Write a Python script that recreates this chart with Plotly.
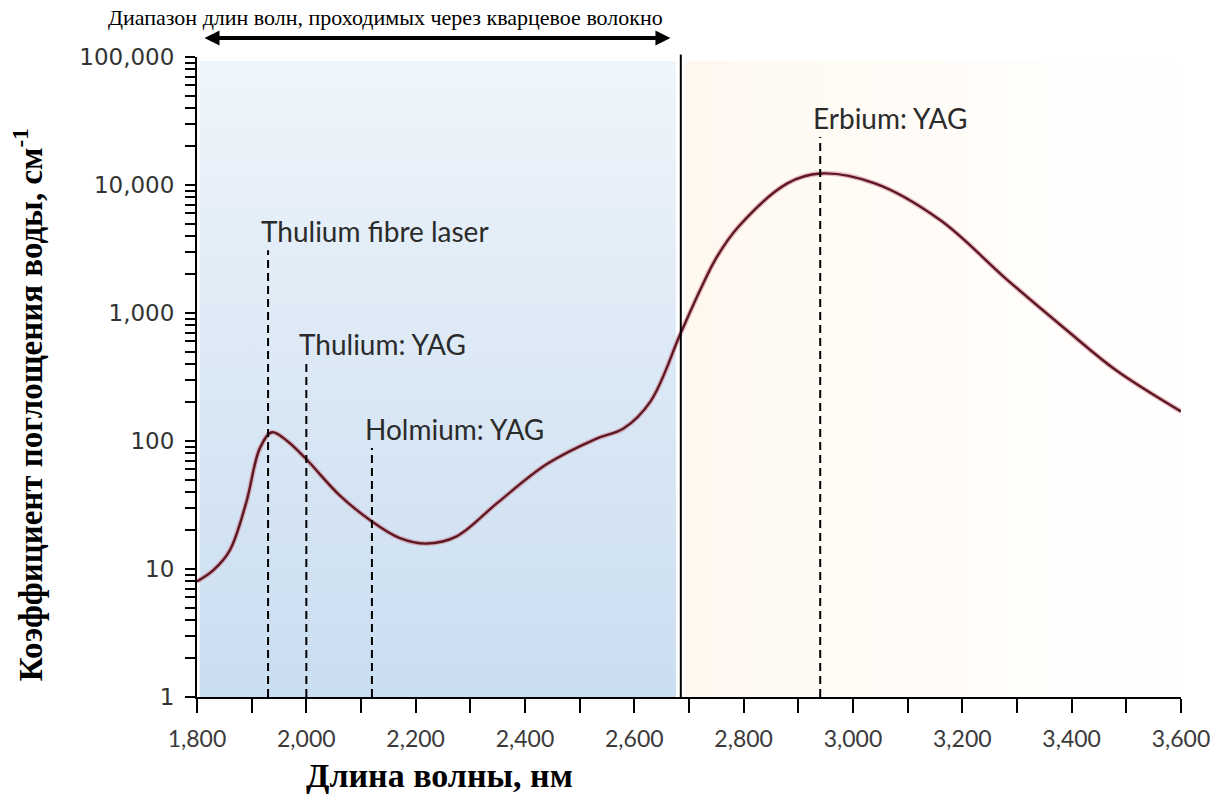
import plotly.graph_objects as go

# Water absorption spectrum in the near/mid infrared
wavelength_nm = [1800, 1830, 1860, 1890, 1915, 1937, 1965, 2000, 2060, 2120,
                 2170, 2220, 2275, 2350, 2440, 2530, 2580, 2630, 2685, 2720,
                 2750, 2790, 2880, 2940, 3040, 3160, 3280, 3390, 3480, 3600]
absorption_cm = [8.0, 9.8, 14, 33, 88, 117, 100, 72, 38, 23.5,
                 17.5, 15.8, 18, 33, 66, 104, 125, 205, 700, 1500,
                 2700, 4700, 10300, 12300, 10300, 5300, 1850, 740, 360, 170]

# Laser emission lines
laser_names = ["Thulium fibre laser", "Thulium: YAG", "Holmium: YAG", "Erbium: YAG"]
laser_nm = [1930, 2000, 2120, 2940]

# Upper transmission limit of silica fibre
fibre_limit_nm = 2685

x_ticks = list(range(1800, 3601, 100))
x_labels = [f"{v:,}" if v % 200 == 0 else "" for v in x_ticks]
y_decades = [1, 10, 100, 1000, 10000, 100000]
y_decade_labels = ["1", "10", "100", "1,000", "10,000", "100,000"]

# log-axis ticks: every integer multiple inside each decade, labels on decades only
y_ticks, y_labels = [], []
for d, lab in zip(y_decades, y_decade_labels):
    if d == y_decades[-1]:
        y_ticks.append(d)
        y_labels.append(lab)
        break
    for m in range(1, 10):
        y_ticks.append(d * m)
        y_labels.append(lab if m == 1 else "")

X_MIN, X_MAX = x_ticks[0], x_ticks[-1]
Y_MIN, Y_MAX = y_decades[0], y_decades[-1]

# paper-height of each dashed marker's top and its label
marker_top = [0.698, 0.522, 0.389, 0.875]
label_offset = 0.030

fig = go.Figure()

# shaded bands: transmitted range (blue) and beyond the fibre limit (cream)
band_gap = 9
fig.add_trace(go.Scatter(
    x=[X_MIN + 5, fibre_limit_nm - band_gap, fibre_limit_nm - band_gap, X_MIN + 5, X_MIN + 5],
    y=[Y_MIN, Y_MIN, Y_MAX * 0.93, Y_MAX * 0.93, Y_MIN],
    mode="lines", line=dict(width=0), fill="toself",
    fillgradient=dict(type="vertical",
                      colorscale=[[0, "#cadef1"], [0.5, "#dbe8f5"], [1, "#eff5fb"]]),
    hoverinfo="skip", showlegend=False))
fig.add_trace(go.Scatter(
    x=[fibre_limit_nm + band_gap, X_MAX, X_MAX, fibre_limit_nm + band_gap, fibre_limit_nm + band_gap],
    y=[Y_MIN, Y_MIN, Y_MAX * 0.93, Y_MAX * 0.93, Y_MIN],
    mode="lines", line=dict(width=0), fill="toself",
    fillgradient=dict(type="horizontal",
                      colorscale=[[0, "#fef8ef"], [0.5, "#fffcf8"], [1, "#ffffff"]]),
    hoverinfo="skip", showlegend=False))

# absorption curve with a soft halo
fig.add_trace(go.Scatter(
    x=wavelength_nm, y=absorption_cm, mode="lines",
    line=dict(color="rgba(205,110,130,0.45)", width=5, shape="spline", smoothing=1.0),
    hoverinfo="skip", showlegend=False))
fig.add_trace(go.Scatter(
    x=wavelength_nm, y=absorption_cm, mode="lines",
    line=dict(color="#5e1822", width=2.4, shape="spline", smoothing=1.0),
    showlegend=False))

shapes = []
annotations = []

# fibre limit
shapes.append(dict(type="line", xref="x", yref="paper", x0=fibre_limit_nm, x1=fibre_limit_nm,
                   y0=0, y1=1.004, line=dict(color="black", width=2)))

# laser markers
for name, nm, top in zip(laser_names, laser_nm, marker_top):
    shapes.append(dict(type="line", xref="x", yref="paper", x0=nm, x1=nm, y0=0, y1=top,
                       line=dict(color="black", width=2, dash="8px,5px")))
    annotations.append(dict(text=name, xref="x", yref="paper", x=nm, y=top + label_offset,
                            xanchor="left", yanchor="middle", xshift=-9, showarrow=False,
                            font=dict(family="Lato", size=28, color="#2b2b2b")))

# double-headed arrow over the transmitted range
annotations.append(dict(text="", xref="x", yref="paper", x=2666, y=1.0297,
                        axref="x", ayref="pixel", ax=1811, ay=0,
                        showarrow=True, arrowside="end+start", arrowhead=2,
                        arrowsize=0.75, arrowwidth=4, arrowcolor="black"))
annotations.append(dict(text="Диапазон длин волн, проходимых через кварцевое волокно",
                        xref="paper", yref="paper", x=0.192, y=1.0625,
                        xanchor="center", yanchor="middle", showarrow=False,
                        font=dict(family="Liberation Serif", size=22, color="black")))

# axis titles
annotations.append(dict(text="<b>Коэффициент поглощения воды, см<sup>-1</sup></b>",
                        xref="paper", yref="paper", x=-0.172, y=0.457, textangle=-90,
                        xanchor="center", yanchor="middle", showarrow=False,
                        font=dict(family="Liberation Serif", size=33, color="black")))
annotations.append(dict(text="<b>Длина волны, нм</b>",
                        xref="paper", yref="paper", x=0.246, y=-0.1234,
                        xanchor="center", yanchor="middle", showarrow=False,
                        font=dict(family="Liberation Serif", size=34, color="black")))

fig.update_layout(
    width=1226, height=796,
    margin=dict(l=197, r=45, t=57, b=99),
    paper_bgcolor="white", plot_bgcolor="white",
    showlegend=False, shapes=shapes, annotations=annotations,
)
fig.update_xaxes(
    range=[X_MIN, X_MAX], tickmode="array", tickvals=x_ticks, ticktext=x_labels,
    ticks="outside", ticklen=14, tickwidth=2, tickcolor="black",
    showline=True, linecolor="black", linewidth=2, showgrid=False, zeroline=False,
    tickfont=dict(family="Lato", size=23, color="#3a3a3a"), ticklabelstandoff=6,
)
fig.update_yaxes(
    type="log", range=[0, 5], tickmode="array", tickvals=y_ticks, ticktext=y_labels,
    ticks="outside", ticklen=10, tickwidth=2, tickcolor="black",
    showline=True, linecolor="black", linewidth=2, showgrid=False, zeroline=False,
    tickfont=dict(family="DejaVu Sans", size=23, color="#333333"), ticklabelstandoff=6,
)

fig.write_html("out.html")
